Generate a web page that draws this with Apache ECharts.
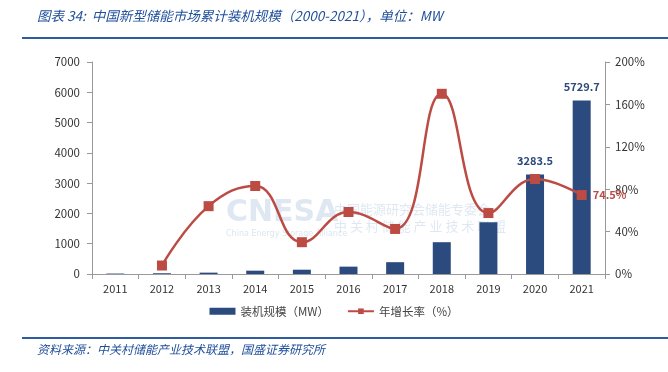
<!DOCTYPE html>
<html><head><meta charset="utf-8">
<script src="https://cdn.jsdelivr.net/npm/echarts@6/dist/echarts.min.js"></script>
<style>html,body{margin:0;padding:0;background:#fff}#c{width:668px;height:372px}</style>
</head><body><div id="c"></div>
<script>
var categories = ['2011','2012','2013','2014','2015','2016','2017','2018','2019','2020','2021'];
var capacity = [15, 25, 45, 110, 142, 243, 390, 1050, 1708, 3283.5, 5729.7];
var growth = [null, 8, 64, 83, 30, 58.5, 42.5, 170, 57.5, 89.6, 74.5];
var capacityLabelShown = ['2020','2021'];
var growthLabelShown = ['2021'];
var titleText = '图表 34:  中国新型储能市场累计装机规模（2000-2021），单位：MW';
var sourceText = '资料来源：中关村储能产业技术联盟，国盛证券研究所';
var barName = '装机规模（MW）';
var lineName = '年增长率（%）';

var chart = echarts.init(document.getElementById('c'));
var font = '"Noto Sans CJK SC", "Noto Sans", sans-serif';
chart.setOption({
  animation: false,
  textStyle: {fontFamily: font},
  graphic: [
    {type:'text', left:37, top:9, style:{text:titleText, fill:'#1F4E9A', font:'italic 13.5px ' + font}},
    {type:'rect', shape:{x:22, y:37, width:646, height:2}, style:{fill:'#2E5C9E'}},
    {type:'rect', shape:{x:22, y:337, width:646, height:2}, style:{fill:'#2E5C9E'}},
    {type:'text', left:37, top:343, style:{text:sourceText, fill:'#1F4E9A', font:'italic 12px ' + font}},
    {type:'text', left:226, top:198, z:-1, style:{text:'CNESA', fill:'rgba(175,198,222,0.4)', font:'bold 30px "DejaVu Sans", sans-serif'}},
    {type:'text', left:226, top:230, z:-1, style:{text:'China Energy Storage Alliance', fill:'rgba(175,198,222,0.45)', font:'8px "DejaVu Sans", sans-serif'}},
    {type:'text', left:334, top:203, z:-1, style:{text:'中国能源研究会储能专委会', fill:'rgba(175,198,222,0.4)', font:'13px ' + font}},
    {type:'text', left:334, top:220, z:-1, style:{text:'中 关 村 储 能 产 业 技 术 联 盟', fill:'rgba(175,198,222,0.4)', font:'13px ' + font}}
  ],
  legend: {
    bottom: 50, left: 'center', itemGap: 18, itemWidth: 26, itemHeight: 7,
    textStyle: {fontSize: 11.5, color: '#444', fontFamily: font},
    data: [{name: barName, icon: 'rect'}, {name: lineName}]
  },
  grid: {left: 92, right: 63, top: 62, bottom: 98},
  xAxis: {
    type: 'category', data: categories,
    axisLine: {lineStyle: {color: '#999'}},
    axisTick: {show: true, alignWithLabel: false, lineStyle: {color: '#999'}},
    axisLabel: {color: '#333', fontSize: 11, margin: 9}
  },
  yAxis: [
    {type: 'value', min: 0, max: 7000, interval: 1000,
     axisLine: {show: true, lineStyle: {color: '#999'}},
     axisTick: {show: true, lineStyle: {color: '#999'}},
     splitLine: {show: false},
     axisLabel: {color: '#333', fontSize: 11.5, margin: 12, formatter: function(v){ return String(v); }}},
    {type: 'value', min: 0, max: 200, interval: 40, position: 'right',
     axisLine: {show: true, lineStyle: {color: '#999'}},
     axisTick: {show: true, lineStyle: {color: '#999'}},
     splitLine: {show: false},
     axisLabel: {color: '#333', fontSize: 11.5, margin: 10, formatter: '{value}%'}}
  ],
  series: [
    {name: barName, type: 'bar', data: capacity, barWidth: 18,
     itemStyle: {color: '#2B4A7E'},
     label: {show: true, position: 'top', distance: 8, color: '#2B4A7E', fontWeight: 'bold', fontSize: 11,
       formatter: function(p){ return capacityLabelShown.indexOf(p.name) >= 0 ? p.value : ''; }}},
    {name: lineName, type: 'line', yAxisIndex: 1, data: growth, smooth: 0.45,
     symbol: 'rect', symbolSize: 10, connectNulls: false,
     lineStyle: {color: '#BC4B44', width: 2.5}, itemStyle: {color: '#BC4B44'},
     label: {show: true, position: 'right', distance: 6, color: '#BC4B44', fontWeight: 'bold', fontSize: 11,
       formatter: function(p){ return growthLabelShown.indexOf(p.name) >= 0 ? p.value + '%' : ''; }}}
  ]
});
</script></body></html>
